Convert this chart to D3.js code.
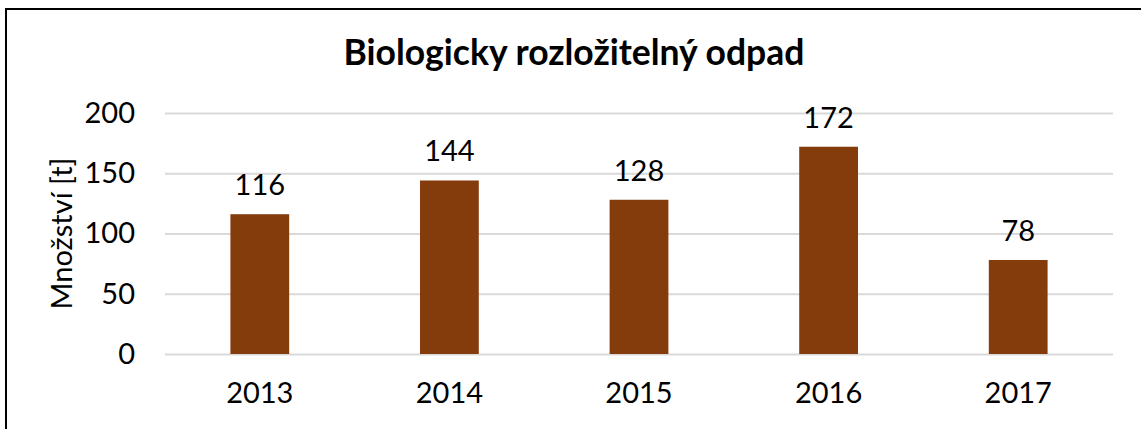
<!DOCTYPE html>
<html><head><meta charset="utf-8">
<script src="https://cdn.jsdelivr.net/npm/d3@7"></script>
<style>body{margin:0;background:#fff}svg{display:block}text{font-family:Lato,"Open Sans",sans-serif;fill:#000}</style>
</head><body><svg id="c" width="1141" height="429"></svg>
<script>
const categories = ["2013","2014","2015","2016","2017"];
const values = [116,144,128,172,78];
const yTicks = [0,50,100,150,200];
const title = "Biologicky rozložitelný odpad";
const yTitle = "Množství [t]";

const svg = d3.select("#c");
const W = 1141, H = 429;
const m = {left:165, right:1113, top:113, bottom:354};
svg.append("rect").attr("x",6).attr("y",9).attr("width",W).attr("height",H).attr("fill","#fff").attr("stroke","#000").attr("stroke-width",2);

const x = d3.scaleBand().domain(categories).range([m.left,m.right]).paddingInner(0.69).paddingOuter(0.345);
const y = d3.scaleLinear().domain([0,200]).range([m.bottom,m.top]);

const gy = svg.append("g").attr("transform",`translate(${m.left},0)`)
  .call(d3.axisLeft(y).tickValues(yTicks).tickSize(-(m.right-m.left)).tickPadding(30));
gy.select(".domain").remove();
gy.selectAll(".tick line").attr("stroke","#d9d9d9").attr("stroke-width",2);
gy.selectAll(".tick text").attr("font-size",29).attr("font-family","Lato").attr("fill","#000");

const gx = svg.append("g").attr("transform",`translate(0,${m.bottom})`)
  .call(d3.axisBottom(x).tickSize(0).tickPadding(28));
gx.select(".domain").remove();
gx.selectAll(".tick text").attr("font-size",29).attr("font-family","Lato").attr("fill","#000");

svg.append("g").selectAll("rect").data(values).join("rect")
  .attr("x",(d,i)=>x(categories[i])).attr("width",x.bandwidth())
  .attr("y",d=>y(d)).attr("height",d=>y(0)-y(d)).attr("fill","#843c0c");

svg.append("g").selectAll("text").data(values).join("text")
  .attr("x",(d,i)=>x(categories[i])+x.bandwidth()/2).attr("y",d=>y(d)-19)
  .attr("text-anchor","middle").attr("font-size",29).text(d=>d);

svg.append("text").attr("x",574).attr("y",65).attr("text-anchor","middle")
  .attr("font-size",35.5).attr("font-weight","bold").text(title);

svg.append("text").attr("transform",`translate(72,${(m.top+m.bottom)/2}) rotate(-90)`)
  .attr("text-anchor","middle").attr("font-size",29).text(yTitle);
</script></body></html>
